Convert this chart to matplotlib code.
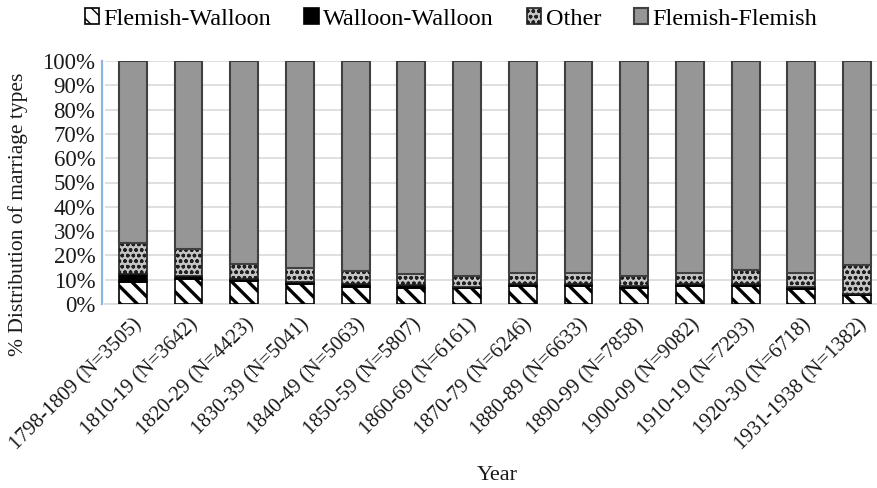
import numpy as np
import matplotlib
matplotlib.use('Agg')
import matplotlib.pyplot as plt
from matplotlib.ticker import PercentFormatter

plt.rcParams['font.family'] = ['Liberation Serif', 'DejaVu Serif']
plt.rcParams['hatch.linewidth'] = 2.4

# decades with number of marriages
periods = ['1798-1809 (N=3505)', '1810-19 (N=3642)', '1820-29 (N=4423)',
           '1830-39 (N=5041)', '1840-49 (N=5063)', '1850-59 (N=5807)',
           '1860-69 (N=6161)', '1870-79 (N=6246)', '1880-89 (N=6633)',
           '1890-99 (N=7858)', '1900-09 (N=9082)', '1910-19 (N=7293)',
           '1920-30 (N=6718)', '1931-1938 (N=1382)']

# share of each marriage type, % of all marriages in the period
flemish_walloon = [9.2, 10.2, 9.5, 8.1, 7.1, 6.7, 6.4, 7.5, 7.5, 6.7, 7.5, 7.5, 6.1, 3.6]
walloon_walloon = [3.0, 1.5, 0.7, 0.9, 1.0, 1.0, 0.7, 0.7, 0.7, 0.8, 0.9, 0.7, 0.7, 0.7]
other = [12.8, 10.9, 6.1, 5.7, 5.5, 4.5, 4.4, 4.7, 4.7, 4.2, 4.5, 5.6, 5.8, 11.7]
flemish_flemish = [100 - a - b - c for a, b, c in zip(flemish_walloon, walloon_walloon, other)]

x = np.arange(len(periods))
w = 0.5

fig = plt.figure(figsize=(8.78, 4.88), dpi=100)
ax = fig.add_axes([105/878, 1 - 304/488, (885 - 105)/878, (304 - 61)/488])

b1 = ax.bar(x, flemish_walloon, w, color='white', edgecolor='black',
            hatch='\\\\', linewidth=1.2, label='Flemish-Walloon', zorder=3)
bottom = np.array(flemish_walloon)
b2 = ax.bar(x, walloon_walloon, w, bottom=bottom, color='black',
            edgecolor='black', linewidth=1.2, label='Walloon-Walloon', zorder=3)
bottom = bottom + np.array(walloon_walloon)
plt.rcParams['hatch.linewidth'] = 1.0
b3 = ax.bar(x, other, w, bottom=bottom, color='#c4c4c4', edgecolor='#202020',
            hatch='ooo', linewidth=1.2, label='Other', zorder=3)
bottom = bottom + np.array(other)
b4 = ax.bar(x, flemish_flemish, w, bottom=bottom, color='#969696',
            edgecolor='#404040', linewidth=1.5, label='Flemish-Flemish', zorder=3)

ax.set_xlim(-0.5, len(periods) - 0.5)
ax.set_ylim(0, 100)
ax.set_yticks(np.arange(0, 101, 10))
ax.yaxis.set_major_formatter(PercentFormatter(decimals=0))
ax.grid(axis='y', color='#d9d9d9', linewidth=1.2, zorder=0)
ax.set_axisbelow(True)

for s in ['top', 'right']:
    ax.spines[s].set_visible(False)
ax.spines['left'].set_color('#8eb4e3')
ax.spines['left'].set_linewidth(1.6)
ax.spines['left'].set_position(('outward', 2))
ax.spines['bottom'].set_color('#d9d9d9')
ax.spines['bottom'].set_linewidth(1.2)

ax.set_xticks(x)
ax.set_xticklabels(periods, rotation=45, ha='right', rotation_mode='anchor', fontsize=15)
ax.tick_params(axis='both', length=0, colors='#1a1a1a')
ax.tick_params(axis='x', pad=8, labelsize=15)
ax.tick_params(axis='y', pad=5, labelsize=16.5)

ax.set_ylabel('% Distribution of marriage types', fontsize=15.5, color='#1a1a1a')
ax.yaxis.set_label_coords(-0.099, 0.37)
fig.text(497/878, 1 - 476/488, 'Year', fontsize=16, ha='center', va='center', color='#1a1a1a')

fig.legend(handles=[b1, b2, b3, b4], loc='center', bbox_to_anchor=(451/878, 1 - 19/488),
           ncol=4, frameon=False, fontsize=17.5, handlelength=0.6, handleheight=0.6,
           handletextpad=0.18, columnspacing=1.35, borderpad=0)

fig.savefig('out.png', dpi=100)
